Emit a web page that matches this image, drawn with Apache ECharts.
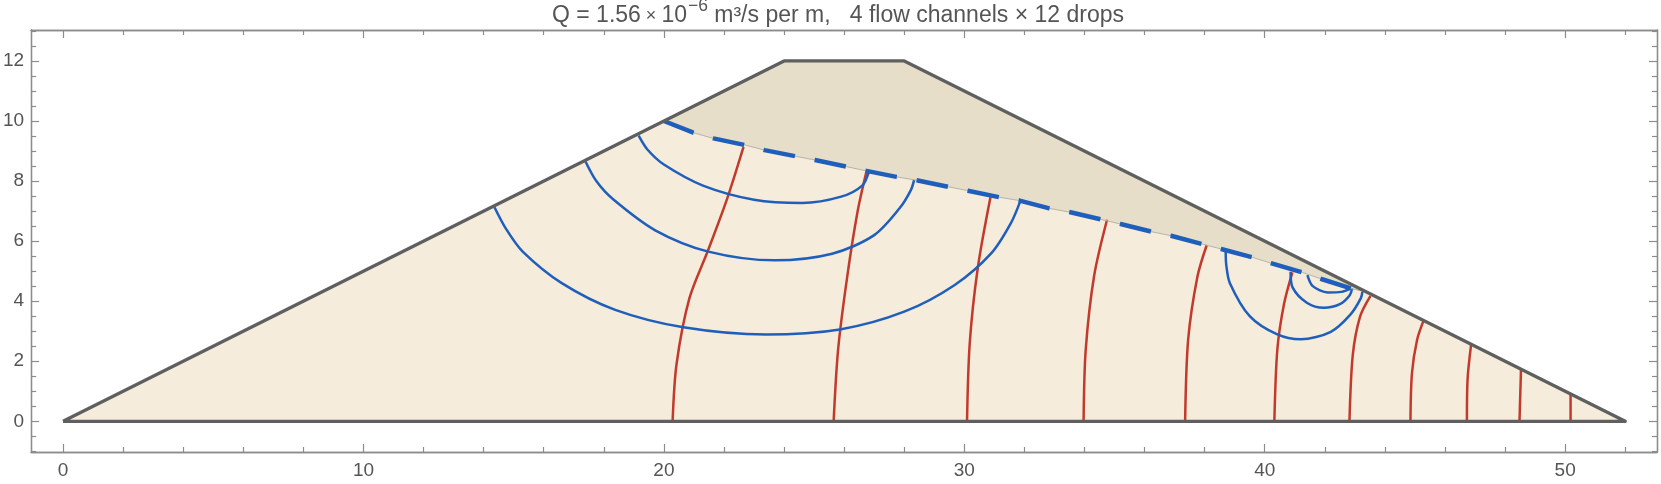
<!DOCTYPE html>
<html><head><meta charset="utf-8">
<style>html,body{margin:0;padding:0;background:#fff}#c{width:1661px;height:484px}</style>
<script src="https://cdn.jsdelivr.net/npm/echarts@6/dist/echarts.min.js"></script>
</head><body><div id="c"></div>
<script>
const xMajorTicks = [0,10,20,30,40,50];
const xMinorTicks = [2,4,6,8,12,14,16,18,22,24,26,28,32,34,36,38,42,44,46,48,52];
const yMajorTicks = [0,2,4,6,8,10,12];
const yMinorTicks = [-1,-0.5,0.5,1,1.5,2.5,3,3.5,4.5,5,5.5,6.5,7,7.5,8.5,9,9.5,10.5,11,11.5,12.5,13];
const damOutline = [[0,0],[24,12],[28,12],[52,0],[0,0]];
const phreatic = [[20,10],[20.98,9.61],[21.65,9.42],[22.7,9.2],[23.35,9.03],[24.36,8.83],[25.03,8.7],[26.08,8.48],[26.74,8.34],[27.74,8.14],[28.4,8.03],[29.46,7.81],[30.12,7.68],[31.17,7.46],[31.84,7.35],[32.83,7.09],[33.53,6.96],[35.2,6.57],[36.25,6.31],[36.88,6.18],[37.93,5.9],[38.58,5.73],[39.59,5.46],[40.23,5.26],[41.25,4.96],[41.91,4.73],[42.91,4.41],[43.3,4.33]];
const flowA = [[19.16,9.51],[19.45,9.05],[20.0,8.55],[21.3,7.85],[23.0,7.38],[24.6,7.27],[25.9,7.48],[26.6,7.85],[26.82,8.3]];
const flowB = [[17.39,8.65],[17.75,8.0],[18.3,7.4],[19.71,6.36],[21.48,5.65],[23.7,5.36],[25.6,5.58],[27.0,6.2],[27.85,7.1],[28.22,7.7],[28.33,8.04]];
const flowC = [[14.36,7.13],[14.75,6.4],[15.3,5.65],[16.6,4.6],[18.38,3.71],[20.65,3.13],[23.4,2.89],[25.86,3.06],[28.0,3.65],[29.68,4.54],[30.9,5.6],[31.55,6.6],[31.87,7.35]];
const flowD = [[38.7,5.65],[38.72,5.2],[38.84,4.6],[39.5,3.5],[40.4,2.9],[41.2,2.73],[42.2,2.98],[42.85,3.55],[43.2,4.1],[43.25,4.32]];
const flowE = [[40.86,4.98],[40.93,4.45],[41.4,3.95],[41.97,3.78],[42.5,3.9],[42.83,4.2],[42.91,4.43]];
const flowF = [[41.42,4.87],[41.6,4.5],[42.1,4.29],[42.55,4.31],[42.86,4.43]];
const dropLine1 = [[20.29,0],[20.42,1.9],[20.85,4.1],[21.46,5.67],[22.1,7.4],[22.65,9.14]];
const dropLine2 = [[25.65,0],[25.8,2.4],[26.1,4.8],[26.45,7],[26.74,8.31]];
const dropLine3 = [[30.09,0],[30.18,2.6],[30.45,5.12],[30.87,7.46]];
const dropLine4 = [[33.97,0],[34.04,2.37],[34.32,4.84],[34.75,6.71]];
const dropLine5 = [[37.35,0],[37.45,2.71],[37.76,4.82],[38.07,5.87]];
const dropLine6 = [[40.32,0],[40.42,2.4],[40.64,3.9],[40.92,4.96]];
const dropLine7 = [[42.82,0],[42.93,2.2],[43.17,3.48],[43.52,4.18]];
const dropLine8 = [[44.85,0],[44.9,1.6],[45.07,2.71],[45.29,3.36]];
const dropLine9 = [[46.73,0],[46.75,1.37],[46.87,2.56]];
const dropLine10 = [[48.48,0],[48.53,1.72]];
const dropLine11 = [[50.18,0],[50.18,0.9]];

const frameColor='#8c8c8c', textColor='#555555', fontName='"Liberation Sans", Arial, sans-serif';
const xMin=-1.063,xMax=53.057,yMin=-1.022,yMax=13.03;
const wedge = damOutline.slice(1,3).concat(phreatic.slice().reverse());

function polygon(points,color,z){
  return {type:'custom',coordinateSystem:'cartesian2d',xAxisIndex:0,yAxisIndex:0,z,silent:true,clip:false,
    data:points,encode:{x:0,y:1},
    renderItem(params,api){
      if(params.dataIndex!==0) return null;
      return {type:'polygon',shape:{points:points.map(p=>api.coord(p))},style:{fill:color,stroke:null}};
    }};
}
function line(points,color,width,z,extra){
  return Object.assign({type:'line',xAxisIndex:0,yAxisIndex:0,data:points,showSymbol:false,symbol:'none',z,silent:true,clip:false,
    lineStyle:{color,width,cap:'butt',join:'round'}},extra||{});
}
function xAxis(pos,values,len,labels){
  return {type:'value',position:pos,min:xMin,max:xMax,gridIndex:0,splitLine:{show:false},
    axisLine:{show:true,onZero:false,lineStyle:{color:frameColor,width:1.3}},
    axisTick:{show:true,inside:true,length:len,customValues:values,lineStyle:{color:frameColor,width:1.2}},
    axisLabel:labels?{show:true,customValues:xMajorTicks,color:textColor,fontSize:19,fontFamily:fontName,margin:9,formatter:v=>String(v)}:{show:false},
    minorTick:{show:false}};
}
function yAxis(pos,values,len,labels){
  return {type:'value',position:pos,min:yMin,max:yMax,gridIndex:0,splitLine:{show:false},
    axisLine:{show:true,onZero:false,lineStyle:{color:frameColor,width:1.3}},
    axisTick:{show:true,inside:true,length:len,customValues:values,lineStyle:{color:frameColor,width:1.2}},
    axisLabel:labels?{show:true,customValues:yMajorTicks,color:textColor,fontSize:19,fontFamily:fontName,margin:7,formatter:v=>String(v)}:{show:false},
    minorTick:{show:false}};
}
const blue='#1f5fbb', red='#c23a2c';
const flows=[flowA,flowB,flowC,flowD,flowE,flowF];
const drops=[dropLine1,dropLine2,dropLine3,dropLine4,dropLine5,dropLine6,dropLine7,dropLine8,dropLine9,dropLine10,dropLine11];
const chart=echarts.init(document.getElementById('c'),null,{renderer:'canvas',width:1661,height:484});
chart.setOption({
  animation:false,backgroundColor:'#fff',
  title:{text:'Q = 1.56{m| × }10{sup|−6} m³/s per m,   4 flow channels × 12 drops',left:552,top:-4,padding:0,
    textStyle:{color:textColor,fontSize:23,lineHeight:40,fontWeight:'normal',fontFamily:fontName,
      rich:{m:{fontSize:18,color:textColor,fontFamily:fontName,lineHeight:40},
            sup:{fontSize:17.5,color:textColor,fontFamily:fontName,verticalAlign:'top',padding:[1,0,0,1],lineHeight:20}}}},
  grid:{left:28,right:4,top:30,bottom:32,containLabel:false},
  xAxis:[xAxis('bottom',xMajorTicks,8,true),xAxis('bottom',xMinorTicks,5,false),xAxis('top',xMajorTicks,8,false),xAxis('top',xMinorTicks,5,false)],
  yAxis:[yAxis('left',yMajorTicks,8,true),yAxis('left',yMinorTicks,5,false),yAxis('right',yMajorTicks,8,false),yAxis('right',yMinorTicks,5,false)],
  series:[
    polygon(damOutline,'#f5ecdc',1),
    polygon(wedge,'#e6dec9',2),
    ...drops.map(d=>line(d,red,2.5,3,{smooth:0.3})),
    ...flows.map(f=>line(f,blue,2.5,4,{smooth:0.3})),
    line(phreatic,'#b8b3a8',1,5),
    line(phreatic,blue,4.5,6,{lineStyle:{color:blue,width:4.5,type:[32,20],cap:'butt',join:'round'}}),
    line(damOutline,'#5f5f5f',3.3,7)
  ]
});
</script></body></html>
